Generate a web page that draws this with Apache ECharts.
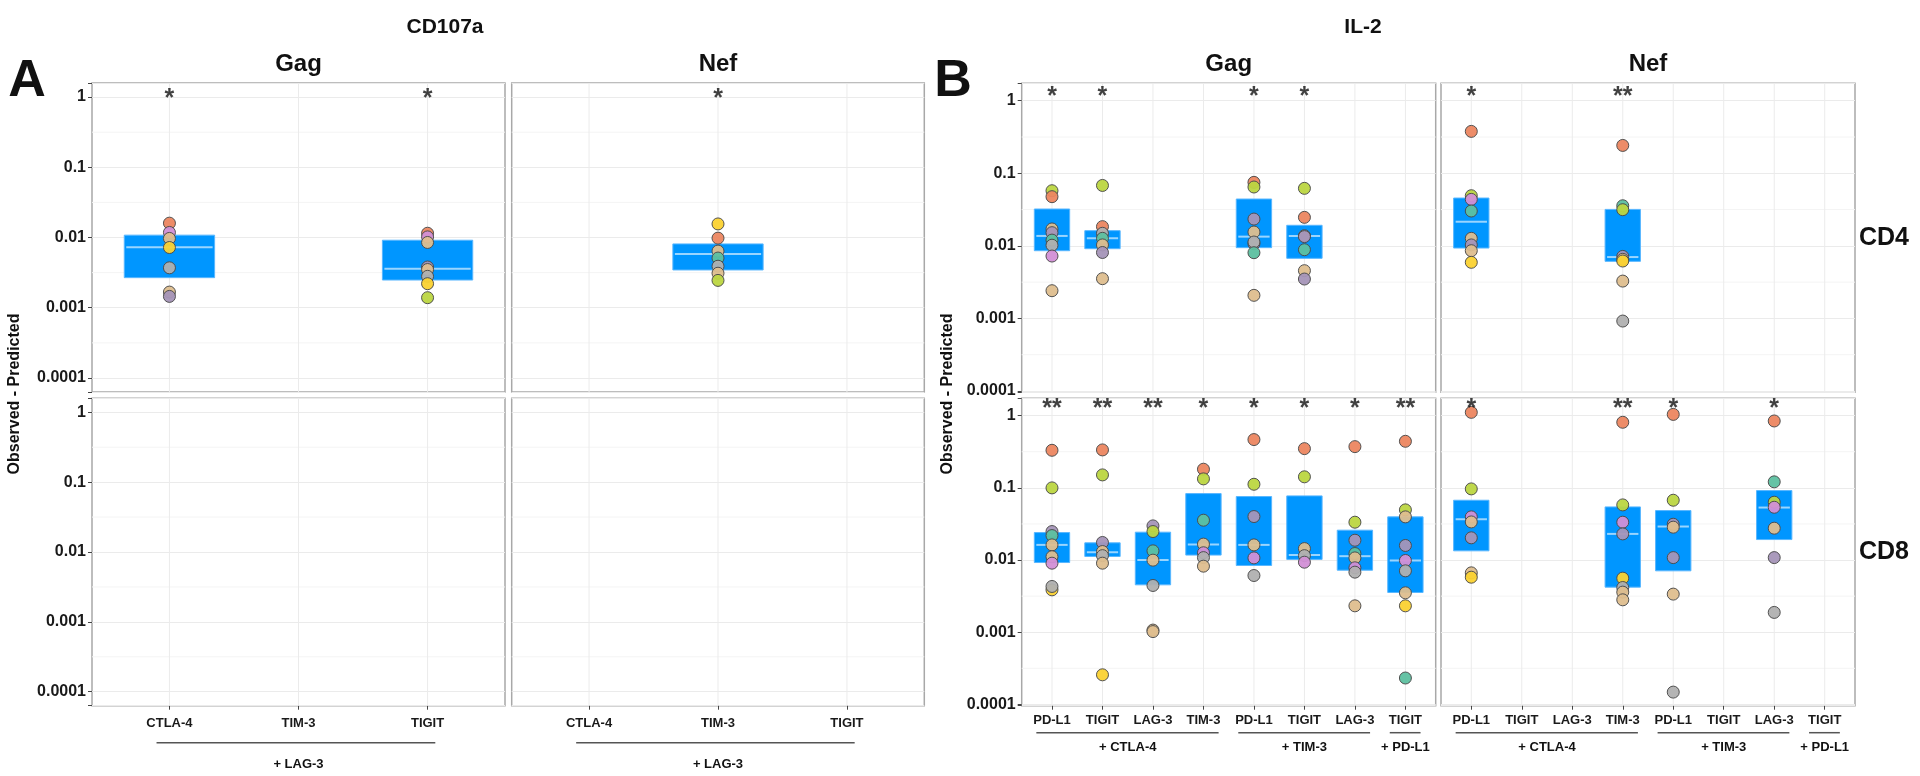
<!DOCTYPE html>
<html><head><meta charset="utf-8">
<script src="https://cdn.jsdelivr.net/npm/echarts@6/dist/echarts.min.js"></script>
<style>html,body{margin:0;padding:0;background:#fff}#c{width:1920px;height:776px}</style>
</head><body><div id="c"></div>
<script>
// ================= DATA =================
const yTickLabels = ['0.0001', '0.001', '0.01', '0.1', '1'];      // 10^-4 .. 10^0
const yMinorBreaks = [0.000316, 0.00316, 0.0316, 0.316];          // half-decade minor grid

const aCats = ['CTLA-4', 'TIM-3', 'TIGIT'];
const aGroups = [['+ LAG-3', 1, 3]];
const bCats = ['PD-L1', 'TIGIT', 'LAG-3', 'TIM-3', 'PD-L1', 'TIGIT', 'LAG-3', 'TIGIT'];
const bGroups = [['+ CTLA-4', 1, 4], ['+ TIM-3', 5, 7], ['+ PD-L1', 8, 8]];

// colour codes per donor: O orange, G teal, P purple, K pink, L lime, Y yellow, T tan, S grey
const donorColors = { O: '#EC8660', G: '#5DC0A0', P: '#A595B8', K: '#D28FD6', L: '#BCD641', Y: '#FBD232', T: '#DEBE8E', S: '#B0B0B0' };

// ---- Panel A: CD107a ----
const aGagTopVals = [[0.016, 0.0118, 0.0097, 0.0072, 0.0037, 0.00167, 0.00145], [], [0.0115, 0.0102, 0.0085, 0.0038, 0.0035, 0.0028, 0.0022, 0.00139]];
const aGagTopCols = ['OKTYSTP', '', 'OKTPTSYL'];
const aGagTopBox = [[0.00268, 0.00726, 0.0108], null, [0.00248, 0.0036, 0.00915]];   // [low, median, high]
const aGagTopStars = ['*', '', '*'];

const aNefTopVals = [[], [0.0156, 0.0098, 0.0064, 0.0051, 0.0039, 0.0031, 0.00245], []];
const aNefTopCols = ['', 'YOTGSTL', ''];
const aNefTopBox = [null, [0.00345, 0.0058, 0.0081], null];
const aNefTopStars = ['', '*', ''];

const aEmptyVals = [[], [], []];
const aEmptyCols = ['', '', ''];
const aEmptyBox = [null, null, null];
const aEmptyStars = ['', '', ''];

// ---- Panel B: IL-2 ----
const bGagCD4Vals = [
  [0.0575, 0.0476, 0.0171, 0.0152, 0.0120, 0.0102, 0.00724, 0.00241],
  [0.068, 0.0184, 0.0149, 0.0127, 0.0103, 0.0081, 0.00353],
  [], [],
  [0.075, 0.0647, 0.0234, 0.0155, 0.0107, 0.0113, 0.00805, 0.00208],
  [0.062, 0.0247, 0.0138, 0.0134, 0.00885, 0.00455, 0.00349],
  [], []];
const bGagCD4Cols = ['LOTPGSKT', 'LOSGTPT', '', '', 'OLPTPSGT', 'LOSPGTP', '', ''];
const bGagCD4Box = [[0.00857, 0.0137, 0.0322], [0.00914, 0.0127, 0.0162], null, null, [0.00944, 0.0134, 0.0442], [0.00673, 0.0137, 0.0192], null, null];
const bGagCD4Stars = ['*', '*', '', '', '*', '*', '', ''];

const bNefCD4Vals = [
  [0.378, 0.0491, 0.0437, 0.0302, 0.0127, 0.0103, 0.00857, 0.00593],
  [], [],
  [0.242, 0.0357, 0.0315, 0.00716, 0.00652, 0.00618, 0.00327, 0.00092],
  [], [], [], []];
const bNefCD4Cols = ['OLKGTPTY', '', '', 'OGLPTYTS', '', '', '', ''];
const bNefCD4Box = [[0.00933, 0.0215, 0.0456], null, null, [0.00612, 0.00701, 0.0318], null, null, null, null];
const bNefCD4Stars = ['*', '', '', '**', '', '', '', ''];

const bGagCD8Vals = [
  [0.331, 0.0998, 0.0248, 0.0218, 0.0162, 0.0111, 0.00904, 0.00386, 0.0043],
  [0.335, 0.151, 0.0175, 0.0131, 0.0115, 0.00904, 0.000257],
  [0.0297, 0.0248, 0.0134, 0.00995, 0.00444, 0.00107, 0.00102],
  [0.181, 0.133, 0.0356, 0.0166, 0.0126, 0.0108, 0.00822],
  [0.466, 0.112, 0.04, 0.0162, 0.0107, 0.0061],
  [0.349, 0.142, 0.0144, 0.0115, 0.00933],
  [0.372, 0.0334, 0.0188, 0.0123, 0.0107, 0.0078, 0.00679, 0.00232],
  [0.441, 0.0495, 0.0396, 0.0159, 0.00985, 0.00708, 0.00351, 0.00232, 0.000232]];
const bGagCD8Cols = ['OLPGTTKYS', 'OLPTSTY', 'PLGTSTT', 'OLGTKST', 'OLPTKS', 'OLTSK', 'OLPGTKST', 'OLTPKSTYG'];
const bGagCD8Box = [[0.00923, 0.0162, 0.024], [0.0112, 0.0128, 0.0173], [0.00453, 0.01, 0.0243], [0.0117, 0.0164, 0.0832],
  [0.0084, 0.0162, 0.0757], [0.0102, 0.0117, 0.0773], [0.00723, 0.0113, 0.0259], [0.00355, 0.00985, 0.0396]];
const bGagCD8Stars = ['**', '**', '**', '*', '*', '*', '*', '**'];

const bNefCD8Vals = [
  [1.11, 0.0966, 0.0396, 0.0337, 0.0203, 0.00664, 0.00578],
  [], [],
  [0.809, 0.058, 0.0334, 0.023, 0.00561, 0.00416, 0.00359, 0.00281],
  [1.04, 0.0673, 0.0313, 0.0285, 0.0108, 0.00337, 0.000148],
  [],
  [0.843, 0.121, 0.0632, 0.0538, 0.0276, 0.0108, 0.00188],
  []];
const bNefCD8Cols = ['OLKTPTY', '', '', 'OLKPYSTT', 'OLPTPTS', '', 'OGLKTPS', ''];
const bNefCD8Box = [[0.0134, 0.0367, 0.0673], null, null, [0.00421, 0.023, 0.0544], [0.00708, 0.0291, 0.0484], null, [0.0192, 0.0533, 0.0916], null];
const bNefCD8Stars = ['*', '', '', '**', '*', '', '*', ''];

// ================= LAYOUT / STYLE =================
const FONT = "'Liberation Sans', Arial, Helvetica, sans-serif";
const A_RANGE = [Math.pow(10, -4.2), Math.pow(10, 0.2)];
const B_RANGE = [Math.pow(10, -4.018), Math.pow(10, 0.24)];

const panels = [
  { g: [92, 83, 413, 309], cats: aCats, vals: aGagTopVals, cols: aGagTopCols, box: aGagTopBox, stars: aGagTopStars, range: A_RANGE, showX: false, showY: true, starY: 1.125 },
  { g: [511.7, 83, 412.6, 309], cats: aCats, vals: aNefTopVals, cols: aNefTopCols, box: aNefTopBox, stars: aNefTopStars, range: A_RANGE, showX: false, showY: false, starY: 1.125 },
  { g: [92, 398.3, 413, 307.4], cats: aCats, vals: aEmptyVals, cols: aEmptyCols, box: aEmptyBox, stars: aEmptyStars, range: A_RANGE, showX: true, showY: true, starY: 1.125, xMargin: 11 },
  { g: [511.7, 398.3, 412.6, 307.4], cats: aCats, vals: aEmptyVals, cols: aEmptyCols, box: aEmptyBox, stars: aEmptyStars, range: A_RANGE, showX: true, showY: false, starY: 1.125, xMargin: 11 },
  { g: [1021.7, 83.3, 414, 309], cats: bCats, vals: bGagCD4Vals, cols: bGagCD4Cols, box: bGagCD4Box, stars: bGagCD4Stars, range: B_RANGE, showX: false, showY: true, starY: 1.37 },
  { g: [1441, 83.3, 414, 309], cats: bCats, vals: bNefCD4Vals, cols: bNefCD4Cols, box: bNefCD4Box, stars: bNefCD4Stars, range: B_RANGE, showX: false, showY: false, starY: 1.37 },
  { g: [1021.7, 398.3, 414, 307.4], cats: bCats, vals: bGagCD8Vals, cols: bGagCD8Cols, box: bGagCD8Box, stars: bGagCD8Stars, range: B_RANGE, showX: true, showY: true, starY: 1.48, xMargin: 8 },
  { g: [1441, 398.3, 414, 307.4], cats: bCats, vals: bNefCD8Vals, cols: bNefCD8Cols, box: bNefCD8Box, stars: bNefCD8Stars, range: B_RANGE, showX: true, showY: false, starY: 1.48, xMargin: 8 }
];

const chart = echarts.init(document.getElementById('c'), null, { renderer: 'canvas' });

const grids = [], xAxes = [], yAxes = [], series = [];
panels.forEach((p, i) => {
  const n = p.cats.length;
  const catPos = p.cats.map((c, k) => k + 1);
  grids.push({ left: p.g[0], top: p.g[1], width: p.g[2], height: p.g[3], show: true, backgroundColor: '#fff', borderColor: '#a8a8a8', borderWidth: 1.5, containLabel: false, outerBoundsMode: 'none' });
  xAxes.push({
    type: 'value', gridIndex: i, min: 0.4, max: n + 0.6,
    axisLine: { show: false },
    axisTick: { show: p.showX, length: 4, lineStyle: { color: '#444' }, customValues: catPos },
    axisLabel: { show: p.showX, customValues: catPos, formatter: v => p.cats[Math.round(v) - 1] || '', fontFamily: FONT, fontSize: 13, fontWeight: 'bold', color: '#1a1a1a', margin: p.xMargin || 8 },
    splitLine: { show: false }
  });
  yAxes.push({
    type: 'log', logBase: 10, gridIndex: i, min: p.range[0], max: p.range[1],
    axisLine: { show: false },
    axisTick: { show: p.showY, length: 4, lineStyle: { color: '#444' } },
    axisLabel: {
      show: p.showY, fontFamily: FONT, fontSize: 16, fontWeight: 'bold', color: '#1a1a1a', margin: 6,
      formatter: v => { const e = Math.log10(v); const r = Math.round(e); return Math.abs(e - r) < 1e-6 ? (yTickLabels[r + 4] || '') : ''; }
    },
    splitLine: { show: true, lineStyle: { color: '#ebebeb', width: 1 } },
    minorTick: { show: false }, minorSplitLine: { show: false }
  });
  // minor horizontal grid + vertical category grid
  series.push({
    type: 'custom', xAxisIndex: i, yAxisIndex: i, z: 1, silent: true, clip: false,
    data: yMinorBreaks.map(v => [1, v, 0]).concat(catPos.map(c => [c, 0.01, 1])),
    renderItem: (params, api) => {
      const cs = params.coordSys;
      const pt = api.coord([api.value(0), api.value(1)]);
      if (api.value(2) === 0) {
        return { type: 'line', shape: { x1: cs.x, y1: pt[1], x2: cs.x + cs.width, y2: pt[1] }, style: { stroke: '#f4f4f4', lineWidth: 1 } };
      }
      return { type: 'line', shape: { x1: pt[0], y1: cs.y, x2: pt[0], y2: cs.y + cs.height }, style: { stroke: '#ebebeb', lineWidth: 1 } };
    }
  });
  // boxes (crossbars)
  const boxData = [];
  p.box.forEach((b, k) => { if (b) boxData.push([k + 1, b[0], b[1], b[2]]); });
  series.push({
    type: 'custom', xAxisIndex: i, yAxisIndex: i, z: 2, silent: true,
    encode: { x: 0, y: [1, 2, 3] },
    data: boxData,
    renderItem: (params, api) => {
      const x = api.value(0);
      const tl = api.coord([x - 0.35, api.value(3)]);
      const br = api.coord([x + 0.35, api.value(1)]);
      const ml = api.coord([x - 0.35, api.value(2)]);
      const mr = api.coord([x + 0.35, api.value(2)]);
      return {
        type: 'group', children: [
          { type: 'rect', shape: { x: tl[0], y: tl[1], width: br[0] - tl[0], height: br[1] - tl[1] }, style: { fill: '#0096ff', stroke: '#58b6ff', lineWidth: 1 } },
          { type: 'line', shape: { x1: ml[0] + 2, y1: ml[1], x2: mr[0] - 2, y2: mr[1] }, style: { stroke: 'rgba(255,255,255,0.6)', lineWidth: 2 } }
        ]
      };
    }
  });
  // points
  const pts = [];
  p.vals.forEach((arr, k) => {
    arr.forEach((v, j) => {
      pts.push({ value: [k + 1, v], itemStyle: { color: donorColors[p.cols[k][j]] || '#bbb' } });
    });
  });
  series.push({
    type: 'scatter', xAxisIndex: i, yAxisIndex: i, z: 3, silent: true,
    symbol: 'circle', symbolSize: 12,
    itemStyle: { borderColor: '#4a4a4a', borderWidth: 1, opacity: 0.95 },
    data: pts
  });
  // significance stars
  const st = [];
  p.stars.forEach((s, k) => { if (s) st.push({ name: s, value: [k + 1, p.starY] }); });
  series.push({
    type: 'scatter', xAxisIndex: i, yAxisIndex: i, z: 5, silent: true,
    symbolSize: 1, itemStyle: { color: 'rgba(0,0,0,0)' },
    label: { show: true, position: 'inside', formatter: '{b}', fontFamily: FONT, fontSize: 25, fontWeight: 'bold', color: '#111', offset: [0, 6] },
    data: st
  });
});

const textStyle = (txt, x, y, size, extra) => Object.assign({
  type: 'text', x: x, y: y, silent: true,
  style: { text: txt, fontFamily: FONT, fontSize: size, fontWeight: 'bold', fill: '#111', textAlign: 'center', textVerticalAlign: 'middle' }
}, extra || {});

const graphics = [
  textStyle('CD107a', 445, 27, 21),
  textStyle('IL-2', 1363, 27, 21),
  textStyle('A', 27, 82, 52),
  textStyle('B', 953, 82, 52),
  textStyle('CD4', 1884, 238, 25),
  textStyle('CD8', 1884, 552, 25),
  textStyle('Observed - Predicted', 15, 394, 16, { rotation: Math.PI / 2 }),
  textStyle('Observed - Predicted', 948, 394, 16, { rotation: Math.PI / 2 })
];
// strip labels centred on each column of panels
[[0, 'Gag'], [1, 'Nef'], [4, 'Gag'], [5, 'Nef']].forEach(([gi, t]) => {
  const g = panels[gi].g;
  graphics.push(textStyle(t, g[0] + g[2] / 2, 64, 24));
});

chart.setOption({
  animation: false,
  backgroundColor: '#fff',
  grid: grids, xAxis: xAxes, yAxis: yAxes, series: series,
  graphic: graphics
});

// group brackets under the x labels, positioned through the x axes
const brackets = [
  { idx: 2, groups: aGroups, lineY: 742.7, textY: 764.3, pad: [0.1, 0.06] },
  { idx: 3, groups: aGroups, lineY: 742.7, textY: 764.3, pad: [0.1, 0.06] },
  { idx: 6, groups: bGroups, lineY: 732.7, textY: 747.7, pad: [0.31, 0.3] },
  { idx: 7, groups: bGroups, lineY: 732.7, textY: 747.7, pad: [0.31, 0.3] }
];
brackets.forEach(b => {
  b.groups.forEach(([label, s, e]) => {
    const x1 = chart.convertToPixel({ xAxisIndex: b.idx }, s - b.pad[0]);
    const x2 = chart.convertToPixel({ xAxisIndex: b.idx }, e + b.pad[1]);
    const xm = chart.convertToPixel({ xAxisIndex: b.idx }, (s + e) / 2);
    graphics.push({ type: 'line', silent: true, shape: { x1: x1, y1: b.lineY, x2: x2, y2: b.lineY }, style: { stroke: '#555', lineWidth: 1.5 } });
    graphics.push(textStyle(label, xm, b.textY, 13));
  });
});
chart.setOption({ graphic: graphics });
</script>
</body></html>
